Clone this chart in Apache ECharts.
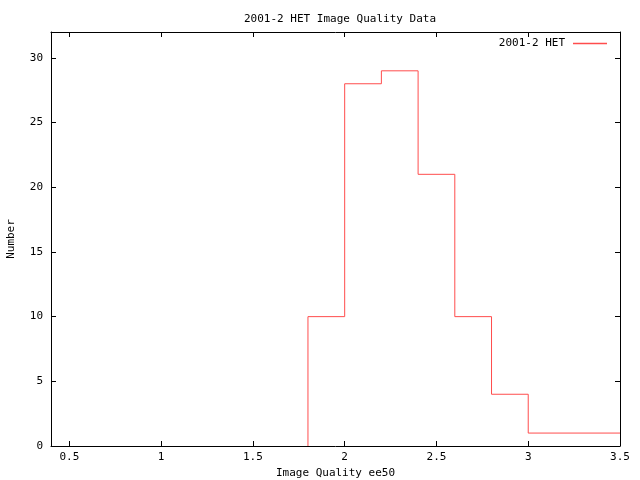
<!DOCTYPE html>
<html>
<head>
<meta charset="utf-8">
<script src="https://cdn.jsdelivr.net/npm/echarts@6/dist/echarts.min.js"></script>
<style>html,body{margin:0;padding:0;background:#fff;}#c{width:640px;height:480px;}</style>
</head>
<body>
<div id="c"></div>
<script>
var titleText = '2001-2 HET Image Quality Data';
var seriesName = '2001-2 HET';
var xName = 'Image Quality ee50';
var yName = 'Number';
var binLeft = [1.8, 2.0, 2.2, 2.4, 2.6, 2.8, 3.0];
var counts = [10, 28, 29, 21, 10, 4, 1];
var lastEdge = 3.5;
var xTicks = [0.5, 1, 1.5, 2, 2.5, 3, 3.5];
var yTicks = [0, 5, 10, 15, 20, 25, 30];

var data = [[binLeft[0], 0]];
binLeft.forEach(function (x, i) { data.push([x, counts[i]]); });
data.push([lastEdge, counts[counts.length - 1]]);

var font = 'DejaVu Sans Mono';
var fs = 11;
var red = '#ff4d4d';
var xMin = 0.4, xMax = 3.5, yMin = 0, yMax = 32;

function xAxisCfg(pos, show) {
  return {
    type: 'value', position: pos, min: xMin, max: xMax,
    name: show ? xName : '', nameLocation: 'middle', nameGap: 20,
    nameTextStyle: { fontFamily: font, fontSize: fs, color: '#000' },
    axisLine: { show: true, onZero: false, lineStyle: { color: '#000', width: 1 } },
    axisTick: { show: true, inside: true, length: 5, customValues: xTicks, lineStyle: { color: '#000' } },
    axisLabel: { show: show, customValues: xTicks, margin: 6, fontFamily: font, fontSize: fs, color: '#000' },
    splitLine: { show: false }
  };
}
function yAxisCfg(pos, show) {
  return {
    type: 'value', position: pos, min: yMin, max: yMax,
    name: show ? yName : '', nameLocation: 'middle', nameGap: 34, nameRotate: 90,
    nameTextStyle: { fontFamily: font, fontSize: fs, color: '#000' },
    axisLine: { show: true, onZero: false, lineStyle: { color: '#000', width: 1 } },
    axisTick: { show: true, inside: true, length: 5, customValues: yTicks, lineStyle: { color: '#000' } },
    axisLabel: { show: show, customValues: yTicks, margin: 8, fontFamily: font, fontSize: fs, color: '#000' },
    splitLine: { show: false }
  };
}

var chart = echarts.init(document.getElementById('c'), null, { renderer: 'canvas' });
chart.setOption({
  animation: false,
  backgroundColor: '#fff',
  title: {
    text: titleText, left: 335, top: 9, textAlign: 'center',
    textStyle: { fontFamily: font, fontSize: fs, fontWeight: 'normal', color: '#000' }
  },
  legend: {
    data: [{ name: seriesName, icon: 'path://M0,0 L1,0 L1,0.04 L0,0.04 Z' }],
    right: 28, top: 33, align: 'right',
    itemWidth: 34, itemHeight: 2,
    textStyle: { fontFamily: font, fontSize: fs, color: '#000', padding: [0, 3, 0, 0] }
  },
  grid: { left: 51, right: 20, top: 32, bottom: 34, containLabel: false, outerBoundsMode: 'none' },
  xAxis: [xAxisCfg('bottom', true), xAxisCfg('top', false)],
  yAxis: [yAxisCfg('left', true), yAxisCfg('right', false)],
  series: [{
    name: seriesName, type: 'line', step: 'end', data: data,
    xAxisIndex: 0, yAxisIndex: 0,
    showSymbol: false, symbol: 'none', clip: true,
    itemStyle: { color: red },
    lineStyle: { color: red, width: 1 }
  }]
});
</script>
</body>
</html>
